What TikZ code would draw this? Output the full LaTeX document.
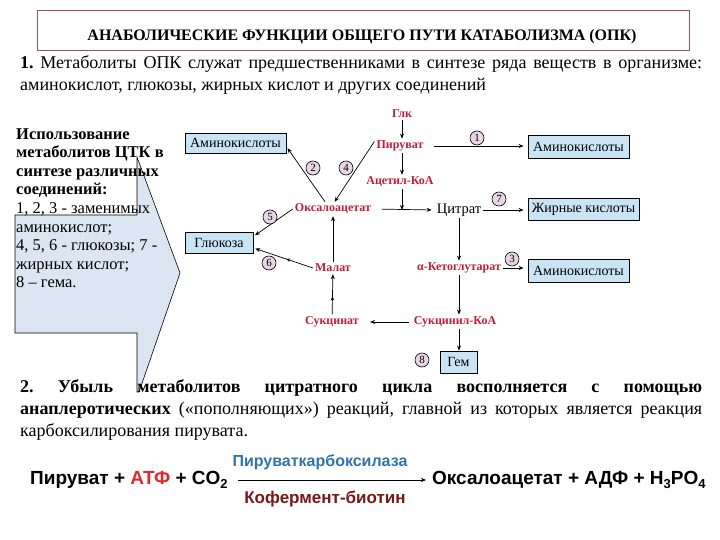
\documentclass[tikz,border=0pt]{standalone}
\usepackage{fontspec}
\setmainfont{Liberation Serif}
\newfontfamily\eqfont{Liberation Sans}
\usepackage{graphicx}
\usetikzlibrary{arrows.meta,decorations.markings}
\definecolor{labred}{RGB}{190,30,55}
\definecolor{boxblue}{RGB}{200,228,245}
\definecolor{arrblue}{RGB}{220,230,242}
\definecolor{circfill}{RGB}{232,214,230}
\definecolor{titleborder}{RGB}{160,80,90}
\definecolor{atpred}{RGB}{225,40,45}
\definecolor{enzblue}{RGB}{50,115,170}
\definecolor{coenz}{RGB}{120,25,25}
\newcommand\fsz[2]{\fontsize{#1}{#2}\selectfont}
\frenchspacing
\begin{document}
\begin{tikzpicture}[x=1pt,y=-1pt,
  lab/.style={font=\bfseries\fsz{12}{14}, text=labred, inner sep=2pt},
  blk/.style={font=\fsz{14.5}{16}, text=black, inner sep=2pt},
  box/.style={draw, fill=boxblue, line width=0.8pt, font=\fsz{14}{16}, inner sep=0pt},
  num/.style={circle, draw, fill=circfill, minimum size=14pt, inner sep=0pt, font=\fsz{11}{12}, line width=0.6pt},
  arr/.style={-{Stealth[length=5pt,width=4pt]}, line width=0.7pt},
  midarr/.style={postaction={decorate}, decoration={markings, mark=at position 0.45 with {\arrow{Stealth[length=4pt,width=3.5pt]}}}}]
\useasboundingbox (0,0) rectangle (720,540);
\fill[white] (0,0) rectangle (720,540);
% title
\node[draw=titleborder, line width=1.2pt, minimum width=652pt, minimum height=40pt, anchor=north west, inner sep=0pt] (titlebox) at (37,10) {};
\node[font=\bfseries\fsz{16}{18}] (title) at (362,37) {АНАБОЛИЧЕСКИЕ ФУНКЦИИ ОБЩЕГО ПУТИ КАТАБОЛИЗМА (ОПК)};
% paragraph 1
\node[anchor=north west, inner sep=0pt, text width=682pt, align=justify, font=\fsz{18}{22}] (par1) at (20,55)
 {\textbf{1.} Метаболиты ОПК служат предшественниками в синтезе ряда веществ в организме:\linebreak аминокислот, глюкозы, жирных кислот и других соединений};
% block arrow
\draw[fill=arrblue, line width=0.6pt] (15,215) -- (137,215) -- (137,157) -- (180,273) -- (139,392) -- (137,392) -- (137,333) -- (15,333) -- cycle;
\node[anchor=north west, inner sep=0pt, align=left, font=\fsz{16.5}{18.6}] (lefttext) at (16,128)
 {\textbf{Использование}\\ \textbf{метаболитов ЦТК в}\\ \textbf{синтезе различных}\\ \textbf{соединений:}\\ 1, 2, 3 - заменимых\\ аминокислот;\\ 4, 5, 6 - глюкозы; 7 -\\ жирных кислот;\\ 8 – гема.};
% metabolites
\node[lab] (glk) at (402,114) {Глк};
\node[lab] (pyr) at (400,146) {Пируват};
\node[lab] (acet) at (400,182) {Ацетил-КоА};
\node[lab] (oxa) at (333,209) {Оксалоацетат};
\node[blk] (citr) at (459,210) {Цитрат};
\node[lab] (akg) at (459,268) {α-Кетоглутарат};
\node[lab] (scoa) at (455,322) {Сукцинил-КоА};
\node[lab] (succ) at (332,322) {Сукцинат};
\node[lab] (mal) at (333,268) {Малат};
% product boxes
\node[box, minimum width=101pt, minimum height=20pt] (amL) at (235.5,143) {Аминокислоты};
\node[box, minimum width=101pt, minimum height=23pt] (amR) at (578.5,146.5) {Аминокислоты};
\node[box, minimum width=111pt, minimum height=22pt] (fat) at (583.5,209) {Жирные кислоты};
\node[box, minimum width=101pt, minimum height=23pt] (amK) at (578.5,270.5) {Аминокислоты};
\node[box, minimum width=68pt, minimum height=21pt] (glu) at (219,242.5) {Глюкоза};
\node[box, minimum width=37pt, minimum height=22pt] (gem) at (458.5,362) {Гем};
% junction
\coordinate (j) at (402,210);
% main arrows
\draw[arr] (glk) -- (glk |- pyr.north);
\draw[arr] (pyr.south -| glk) -- (acet.north -| glk);
\draw[arr] (acet.south -| glk) -- (j);
\draw[arr, shorten <=8pt, shorten >=3pt] (oxa.east) -- (citr.west);
\draw[arr] (citr) -- (akg);
\draw[arr] (akg.south) -- (akg.south |- scoa.north);
\draw[arr] (akg.south |- scoa.south) -- (gem.north -| akg.south);
\draw[arr, shorten <=3pt, shorten >=9pt] (scoa.west) -- (succ.east);
\draw[arr, midarr] (succ) -- (mal);
\draw[arr] (mal) -- (oxa);
% side arrows
\draw[arr, shorten <=8pt, shorten >=4pt] (pyr.east) -- (amR.west |- pyr.east);
\draw[arr, shorten >=4pt] (citr.east) -- (fat.west |- citr.east);
\draw[arr, shorten >=4pt] (akg.east) -- (amK.west |- akg.east);
\draw[arr, shorten >=2pt] (oxa.138) -- (amL.-4);
\draw[arr] (pyr.170) -- (oxa.77);
\draw[arr, shorten >=2pt] (oxa.west) -- (glu.10);
\draw[arr, midarr, shorten >=2pt] (mal.west) -- (glu.-9);
% numbers
\node[num] (n1) at (477,138) {1};
\node[num] (n2) at (313,168) {2};
\node[num] (n3) at (512,259) {3};
\node[num] (n4) at (346,168) {4};
\node[num] (n5) at (270,217) {5};
\node[num] (n6) at (269,263) {6};
\node[num] (n7) at (499,199) {7};
\node[num] (n8) at (422,360) {8};
% paragraph 2
\node[anchor=north west, inner sep=0pt, text width=682pt, align=justify, font=\fsz{18}{22}] (par2) at (20,379)
 {\textbf{2. Убыль метаболитов цитратного цикла восполняется с помощью}\linebreak \textbf{анаплеротических} («пополняющих») реакций, главной из которых является реакция\linebreak карбоксилирования пирувата.};
% equation
\node[anchor=west, inner sep=0pt, font=\eqfont\bfseries\fsz{19}{22}] (eqL) at (30,480)
 {Пируват + \textcolor{atpred}{АТФ} + CO\raisebox{-0.35ex}{\fsz{13}{13}2}};
\node[anchor=west, inner sep=0pt, font=\eqfont\bfseries\fsz{19}{22}] (eqR) at (432,480)
 {Оксалоацетат + АДФ + H\raisebox{-0.35ex}{\fsz{13}{13}3}PO\raisebox{-0.35ex}{\fsz{13}{13}4}};
\draw[arr, shorten <=10pt, shorten >=6pt] (eqL.east) -- (eqR.west);
\node[font=\eqfont\bfseries\fsz{16}{18}, text=enzblue] (enz) at (320,462) {Пируваткарбоксилаза};
\node[font=\eqfont\bfseries\fsz{17}{19}, text=coenz] (coenzn) at (325,499) {Кофермент-биотин};
\end{tikzpicture}
\end{document}
